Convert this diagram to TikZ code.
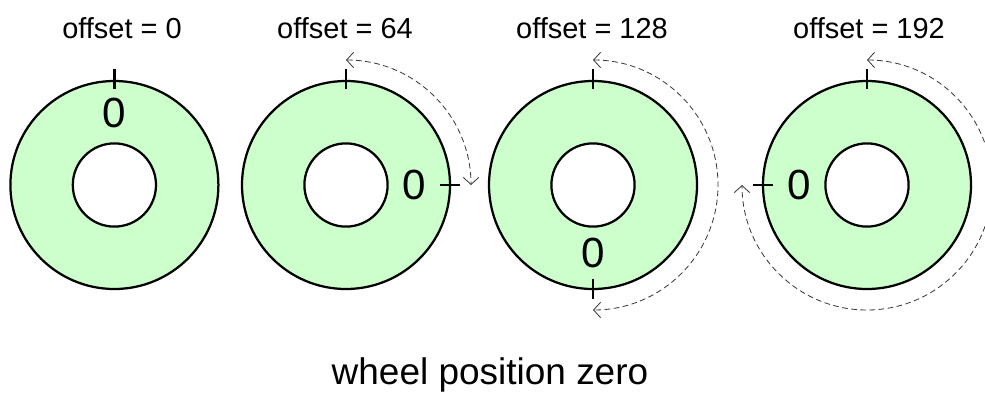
\documentclass[tikz,border=0pt]{standalone}
\usepackage{fontspec}
\setmainfont{Liberation Sans}
\usepackage{xcolor}
\usetikzlibrary{
  arrows.meta,
  positioning,
  calc,
}
\definecolor{wheelfill}{RGB}{204,255,204}
\definecolor{arcgray}{RGB}{60,60,60}
\tikzset{
  wheel/.style={
    circle, draw=black, line width=1.6pt, fill=wheelfill,
    minimum size=5.2cm, inner sep=0pt, outer sep=0pt
  },
  hole/.style={
    circle, draw=black, line width=1.6pt, fill=white,
    minimum size=2.08cm, inner sep=0pt, outer sep=0pt
  },
  tickmark/.style={line width=1.6pt, black},
  zerolabel/.style={font=\fontsize{30}{36}\selectfont, inner sep=0pt},
  offsetlabel/.style={font=\fontsize{20.6}{24}\selectfont, anchor=base, inner sep=0pt},
  turnarrow/.style={
    {Straight Barb[length=5pt,width=11pt]}-{Straight Barb[length=5pt,width=11pt]},
    arcgray, line width=0.6pt, dash pattern=on 4pt off 2.5pt
  },
}

\begin{document}
\begin{tikzpicture}
  \useasboundingbox (0,0) rectangle (24.625,9.8);

  % ── Wheels ──
  \node[wheel] (w1) at (2.86,  5.175) {};
  \node[wheel] (w2) at (8.65,  5.175) {};
  \node[wheel] (w3) at (14.825,5.175) {};
  \node[wheel] (w4) at (21.675,5.175) {};

  \node[hole] (h1) at (w1.center) {};
  \node[hole] (h2) at (w2.center) {};
  \node[hole] (h3) at (w3.center) {};
  \node[hole] (h4) at (w4.center) {};

  % ── Reference ticks ──
  \draw[tickmark] ([yshift=-0.2cm]w1.north) -- ([yshift=0.3cm]w1.north);
  \draw[tickmark] ([yshift=-0.2cm]w2.north) -- ([yshift=0.3cm]w2.north);
  \draw[tickmark] ([xshift=-0.25cm]w2.east)  -- ([xshift=0.25cm]w2.east);
  \draw[tickmark] ([yshift=-0.2cm]w3.north) -- ([yshift=0.3cm]w3.north);
  \draw[tickmark] ([yshift=-0.25cm]w3.south) -- ([yshift=0.25cm]w3.south);
  \draw[tickmark] ([yshift=-0.2cm]w4.north) -- ([yshift=0.3cm]w4.north);
  \draw[tickmark] ([xshift=-0.25cm]w4.west)  -- ([xshift=0.25cm]w4.west);

  % ── Position zero labels ──
  \node[zerolabel] (z1) at ($(w1.center)+(90:1.8)$)  {0};
  \node[zerolabel] (z2) at ($(w2.center)+(0:1.7)$)   {0};
  \node[zerolabel] (z3) at ($(w3.center)+(-90:1.7)$) {0};
  \node[zerolabel] (z4) at ($(w4.center)+(180:1.7)$) {0};

  % ── Rotation arcs ──
  \draw[turnarrow] ([yshift=0.525cm]w2.north) arc[start angle=90, end angle=0,    radius=3.125cm];
  \draw[turnarrow] ([yshift=0.525cm]w3.north) arc[start angle=90, end angle=-90,  radius=3.125cm];
  \draw[turnarrow] ([yshift=0.525cm]w4.north) arc[start angle=90, end angle=-180, radius=3.125cm];

  % ── Offset captions ──
  \node[offsetlabel] (o1) at (3.05,  8.84) {offset = 0};
  \node[offsetlabel] (o2) at (8.625, 8.84) {offset = 64};
  \node[offsetlabel] (o3) at (14.8,  8.84) {offset = 128};
  \node[offsetlabel] (o4) at (21.725,8.84) {offset = 192};

  % ── Title ──
  \node[font=\fontsize{26.3}{30}\selectfont, anchor=base, inner sep=0pt] (title) at (12.25,0.2)
    {wheel position zero};

\end{tikzpicture}
\end{document}
